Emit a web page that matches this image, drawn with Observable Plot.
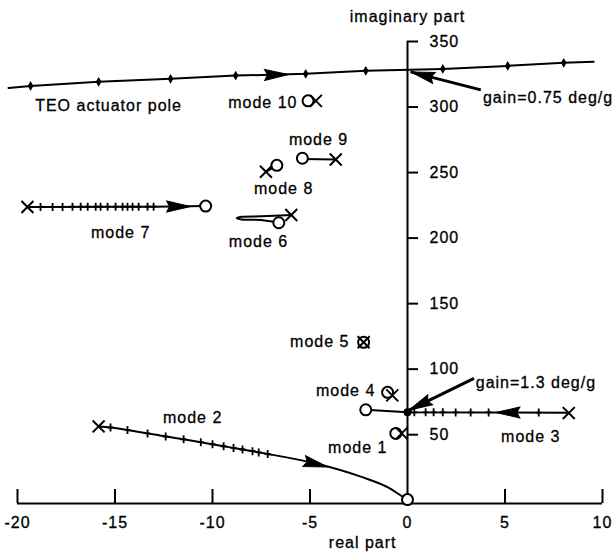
<!DOCTYPE html>
<html><head><meta charset="utf-8">
<script src="https://cdn.jsdelivr.net/npm/d3@7"></script>
<script src="https://cdn.jsdelivr.net/npm/@observablehq/plot@0.6"></script>
<style>
body{margin:0;background:#fff;}
#chart svg text{letter-spacing:1px;}
</style></head><body><div id="chart"></div>
<script>
// ---- data (real part, imaginary part) ----
const xTicks = [-20, -15, -10, -5, 0, 5, 10];
const yTicks = [50, 100, 150, 200, 250, 300, 350];
const xDomain = [-20, 10];
const yDomain = [-2.5, 350];

const teoLocus = [[-20.46,314.6],[-19.33,316.1],[-15.84,319.2],[-12.15,321.5],[-8.81,324.0],[-5.22,325.3],[-2.14,327.6],[1.81,329.1],[5.14,331.4],[8.01,333.7],[9.55,334.5]];
const teoDots = [[-19.33,316.1],[-15.84,319.2],[-12.15,321.5],[-8.81,324.0],[-5.22,325.3],[-2.14,327.6],[1.81,329.1],[5.14,331.4],[8.01,333.7]];

const mode7Locus = [[-19.49,223.7],[-13.02,224.0],[-10.35,224.4]];
const mode7Dots = [[-18.82,223.8],[-18.2,223.8],[-17.69,223.8],[-17.18,223.9],[-16.76,223.9],[-16.4,223.9],[-15.99,223.9],[-15.74,224.0],[-15.38,224.0],[-14.97,224.0],[-14.61,224.0],[-14.36,224.0],[-14.1,224.0],[-13.79,224.0],[-13.33,224.0],[-13.02,224.0]];

const mode6Locus = [[-5.96,217.6],[-7.5,216.6],[-8.5,216.2],[-8.75,215.2],[-8.5,214.2],[-7.5,213.8],[-6.6,211.7]];
const mode8Locus = [[-7.26,250.6],[-6.7,255.5]];
const mode9Locus = [[-5.39,260.3],[-3.68,260.0]];

const mode3Locus = [[8.27,66.8],[4.16,67.0],[0,67.2],[-2.14,69.0]];
const mode3Dots = [[0.35,67.1],[0.93,67.1],[1.34,67.1],[1.81,67.1],[2.47,67.0],[3.24,67.0],[4.16,67.0],[6.73,66.9]];
const junction = [[0,67.2]];

const mode2Locus = [[-15.84,56.3],[-15.23,55.5],[-14.36,53.6],[-13.33,51.0],[-12.4,48.6],[-11.48,46.5],[-10.6,44.3],[-10.0,42.7],[-9.43,41.2],[-8.92,39.9],[-8.46,38.7],[-7.95,37.4],[-7.63,36.5],[-7.17,35.3],[-4.7,28.0],[-2.4,18.0],[-1.0,9.8],[-0.2,2.3],[0,0.5]];
const mode2Dots = mode2Locus.slice(1, 14);

const poles = [[-19.49,223.7],[-5.96,217.6],[-7.26,250.6],[-3.68,260.0],[-4.7,304.7],[-2.25,120.5],[-0.78,80.0],[-0.3,51.0],[8.27,66.5],[-15.84,56.3]];
const zeros = [[-10.35,224.4],[-6.6,211.7],[-6.7,255.5],[-5.39,260.9],[-5.1,304.7],[-2.25,120.5],[-1.02,82.3],[-0.6,51.0],[-2.14,69.0],[0,0.5]];

// arrows: tip and a point behind it on the locus
const locusArrows = [
  {tip:[-6.1,324.9], from:[-8.81,324.0]},
  {tip:[-11.12,224.1], from:[-13.02,224.0]},
  {tip:[-4.1,25.4], from:[-5.6,31.0]},
  {tip:[4.53,67.0], from:[6.73,66.9]}
];
const gainArrows = [
  {tip:[0.16,326.8], from:[3.76,313.1]},
  {tip:[0.06,68.6], from:[3.41,93.0]}
];

const modeLabels = [
  ["TEO actuator pole", -15.33, 300.9],
  ["mode 10", -7.42, 303.1],
  ["mode 9", -4.56, 274.9],
  ["mode 8", -6.35, 237.4],
  ["mode 7", -14.71, 203.8],
  ["mode 6", -7.64, 196.9],
  ["mode 5", -4.5, 120.5],
  ["mode 4", -3.17, 83.8],
  ["mode 3", 6.32, 48.7],
  ["mode 2", -11.02, 62.5],
  ["mode 1", -2.55, 40.3]
];
const gainLabels = [
  ["gain=0.75 deg/g", 3.87, 307.0],
  ["gain=1.3 deg/g", 3.5, 89.2]
];
const axisTitles = [
  ["imaginary part", 0, 368.9],
  ["real part", -2.3, -32.3]
];

// ---- layout ----
const W = 612, H = 552;
const ML = 17, MR = 10, MT = 41, MB = 49;
const xs = d3.scaleLinear(xDomain, [ML, W - MR]);
const ys = d3.scaleLinear(yDomain, [H - MB, MT]);
const pxX = xs(1) - xs(0);
const pxY = ys(0) - ys(1);

const arrowHead = {
  draw(ctx) {
    const L = 24, Wd = 11;
    ctx.moveTo(0, 0);
    ctx.lineTo(Wd / 2, L);
    ctx.lineTo(0, L - 3);
    ctx.lineTo(-Wd / 2, L);
    ctx.closePath();
  }
};
const gainTick = {
  draw(ctx) {
    ctx.moveTo(0, -4); ctx.lineTo(0, 4);
    ctx.moveTo(-3, 0); ctx.lineTo(3, 0);
  }
};
const angle = d => {
  const sx = xs(d.tip[0]) - xs(d.from[0]);
  const sy = ys(d.tip[1]) - ys(d.from[1]);
  return Math.atan2(sx, -sy) * 180 / Math.PI;
};

const X = d => d[0], Y = d => d[1];
const lineOpts = {x: X, y: Y, stroke: "black", strokeWidth: 2};
const txt = {fill: "black", stroke: "black", strokeWidth: 0.3, fontSize: 16};

const chart = Plot.plot({
  width: W, height: H,
  marginLeft: ML, marginRight: MR, marginTop: MT, marginBottom: MB,
  x: {domain: xDomain, axis: null},
  y: {domain: yDomain, axis: null},
  style: {fontFamily: "'Liberation Sans', Arial, sans-serif", fontSize: "16px", background: "white", overflow: "visible"},
  marks: [
    // axes
    Plot.ruleY([yDomain[0]], {x1: xDomain[0], x2: xDomain[1], stroke: "black", strokeWidth: 2}),
    Plot.ruleX([0], {y1: yDomain[0], y2: yTicks[yTicks.length - 1], stroke: "black", strokeWidth: 2}),
    Plot.ruleX(xTicks.filter(d => d !== 0), {x: d => d, y1: yDomain[0], y2: yDomain[0] + 14 / pxY, stroke: "black", strokeWidth: 2}),
    Plot.ruleY(yTicks, {y: d => d, x1: 0, x2: 11 / pxX, stroke: "black", strokeWidth: 2}),
    Plot.text(xTicks, {x: d => d, y: yDomain[0], dy: 19, text: d => String(d), ...txt}),
    Plot.text(yTicks, {x: 0, y: d => d, dx: 22, textAnchor: "start", text: d => String(d), ...txt}),
    Plot.text(axisTitles, {x: d => d[1], y: d => d[2], text: d => d[0], ...txt}),
    // loci
    Plot.line(teoLocus, lineOpts),
    Plot.line(mode7Locus, lineOpts),
    Plot.line(mode6Locus, {...lineOpts, curve: "catmull-rom"}),
    Plot.line(mode8Locus, lineOpts),
    Plot.line(mode9Locus, lineOpts),
    Plot.line(mode3Locus, lineOpts),
    Plot.line(mode2Locus, {...lineOpts, curve: "monotone-x"}),
    // gain dots
    Plot.dot(teoDots, {x: X, y: Y, symbol: "diamond", r: 3, fill: "black"}),
    Plot.dot(mode7Dots, {x: X, y: Y, symbol: gainTick, fill: "none", stroke: "black", strokeWidth: 1.8}),
    Plot.dot(mode2Dots, {x: X, y: Y, symbol: gainTick, fill: "none", stroke: "black", strokeWidth: 1.8}),
    Plot.dot(mode3Dots, {x: X, y: Y, symbol: gainTick, fill: "none", stroke: "black", strokeWidth: 1.8}),
    Plot.dot(junction, {x: X, y: Y, r: 4, fill: "black"}),
    // gain arrows
    Plot.link(gainArrows, {x1: d => d.from[0], y1: d => d.from[1], x2: d => d.tip[0], y2: d => d.tip[1], stroke: "black", strokeWidth: 3}),
    Plot.dot([...locusArrows, ...gainArrows], {x: d => d.tip[0], y: d => d.tip[1], symbol: arrowHead, rotate: angle, fill: "black", stroke: "black", strokeWidth: 1}),
    // zeros and poles
    Plot.dot(zeros, {x: X, y: Y, r: 5.5, stroke: "black", strokeWidth: 2, fill: "white"}),
    Plot.dot(poles, {x: X, y: Y, symbol: "times", r: 5.5, stroke: "black", strokeWidth: 2}),
    // labels
    Plot.text(modeLabels, {x: d => d[1], y: d => d[2], text: d => d[0], ...txt}),
    Plot.text(gainLabels, {x: d => d[1], y: d => d[2], text: d => d[0], textAnchor: "start", ...txt})
  ]
});
document.getElementById("chart").appendChild(chart);
</script>
</body></html>
